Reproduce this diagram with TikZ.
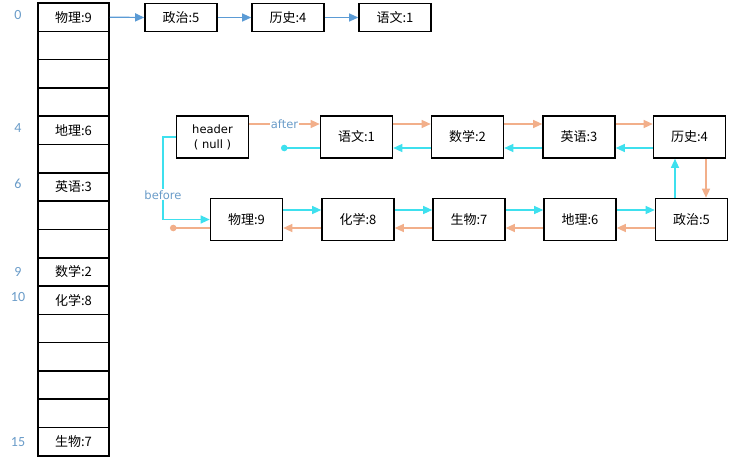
\documentclass[tikz,border=0pt]{standalone}
\usepackage{fontspec}
\setmainfont{Carlito}
\newfontfamily\cjk{Noto Sans CJK SC}
\newfontfamily\dvs{DejaVu Sans}
\usetikzlibrary{arrows.meta}
\definecolor{orangel}{HTML}{F2AF8A}
\definecolor{cyanl}{HTML}{3EE0EE}
\definecolor{bluel}{HTML}{5B9BD5}
\definecolor{idxc}{HTML}{6A9CC9}
\tikzset{
  box/.style={draw, line width=1.6pt, fill=white, minimum width=72pt, minimum height=42pt, inner sep=0pt, font=\cjk\fontsize{13}{15}\selectfont},
  topbox/.style={box, minimum height=28pt},
  cell/.style={draw, line width=1.6pt, fill=white, minimum width=71pt, minimum height=28.3pt, inner sep=0pt},
  celltext/.style={font=\cjk\fontsize{13}{15}\selectfont},
  idx/.style={text=idxc, font=\fontsize{14}{16}\selectfont},
  tip/.style={-{Triangle[length=9pt,width=8pt]}},
  bluearr/.style={tip, draw=bluel, line width=1.2pt},
  orarr/.style={tip, draw=orangel, line width=1.2pt},
  cyarr/.style={tip, draw=cyanl, line width=1.2pt},
  lbl/.style={text=idxc, fill=white, inner sep=1pt, font=\dvs\fontsize{11.5}{13}\selectfont},
}
\begin{document}
\begin{tikzpicture}[x=1pt,y=-1pt]
\useasboundingbox[fill=white] (0,0) rectangle (734,463);
% hash table
\foreach \i in {0,...,15} {
  \node[cell] (c\i) at (73.5,{3+28.3*\i+14.15}) {};
}
\node[celltext] at (c0) {物理:9};
\node[celltext] at (c4) {地理:6};
\node[celltext] at (c6) {英语:3};
\node[celltext] at (c9) {数学:2};
\node[celltext] at (c10) {化学:8};
\node[celltext] at (c15) {生物:7};
\node[idx] (i0) at (18,15) {0};
\node[idx] (i4) at (18,128) {4};
\node[idx] (i6) at (18,184) {6};
\node[idx] (i9) at (18,272) {9};
\node[idx] (i10) at (18,297) {10};
\node[idx] (i15) at (18,442) {15};
% bucket chain
\node[topbox] (t5) at (181,17.5) {政治:5};
\node[topbox] (t4) at (288,17.5) {历史:4};
\node[topbox] (t1) at (395,17.5) {语文:1};
\draw[bluearr] (c0.east) -- (t5.west);
\draw[bluearr] (t5.east) -- (t4.west);
\draw[bluearr] (t4.east) -- (t1.west);
% linked list row 1
\node[box, font=\dvs\fontsize{11.5}{15}\selectfont, align=center] (hdr) at (212.5,137) {header\\( null )};
\node[box] (y1) at (356.5,137) {语文:1};
\node[box] (s2) at (467.5,137) {数学:2};
\node[box] (e3) at (579,137) {英语:3};
\node[box] (h4) at (689.5,137) {历史:4};
% row 2
\node[box] (w9) at (246.5,219.5) {物理:9};
\node[box] (h8) at (358,219.5) {化学:8};
\node[box] (s7) at (469,219.5) {生物:7};
\node[box] (d6) at (580,219.5) {地理:6};
\node[box] (z5) at (691.5,219.5) {政治:5};
% forward (orange) row 1
\draw[orarr] ([yshift=13pt]hdr.east) -- node[lbl]{after} ([yshift=13pt]y1.west);
\draw[orarr] ([yshift=13pt]y1.east) -- ([yshift=13pt]s2.west);
\draw[orarr] ([yshift=13pt]s2.east) -- ([yshift=13pt]e3.west);
\draw[orarr] ([yshift=13pt]e3.east) -- ([yshift=13pt]h4.west);
% backward (cyan) row 1
\coordinate (dot1) at (281,148);
\draw[cyarr] ([yshift=-11pt]s2.west) -- ([yshift=-11pt]y1.east);
\draw[cyarr] ([yshift=-11pt]e3.west) -- ([yshift=-11pt]s2.east);
\draw[cyarr] ([yshift=-11pt]h4.west) -- ([yshift=-11pt]e3.east);
\draw[cyanl, line width=1.2pt, {Circle[length=6.5pt]}-] (dot1) -- ([yshift=-11pt]y1.west);
% vertical links
\draw[orarr] ([xshift=16.5pt]h4.south) -- ([xshift=14.5pt]z5.north);
\draw[cyarr] ([xshift=-16.5pt]z5.north) -- ([xshift=-14.5pt]h4.south);
% row 2 forward (cyan)
\draw[cyarr] ([yshift=9.5pt]w9.east) -- ([yshift=9.5pt]h8.west);
\draw[cyarr] ([yshift=9.5pt]h8.east) -- ([yshift=9.5pt]s7.west);
\draw[cyarr] ([yshift=9.5pt]s7.east) -- ([yshift=9.5pt]d6.west);
\draw[cyarr] ([yshift=9.5pt]d6.east) -- ([yshift=9.5pt]z5.west);
% row 2 backward (orange)
\draw[orarr] ([yshift=-8.5pt]z5.west) -- ([yshift=-8.5pt]d6.east);
\draw[orarr] ([yshift=-8.5pt]d6.west) -- ([yshift=-8.5pt]s7.east);
\draw[orarr] ([yshift=-8.5pt]s7.west) -- ([yshift=-8.5pt]h8.east);
\draw[orarr] ([yshift=-8.5pt]h8.west) -- ([yshift=-8.5pt]w9.east);
\coordinate (dot2) at (170,228);
\draw[orangel, line width=1.2pt, {Circle[length=6.5pt]}-] (dot2) -- ([yshift=-8.5pt]w9.west);
% before
\coordinate (bc) at (163,137);
\draw[cyarr] (hdr.west) -- (bc) |- node[pos=0.35, lbl]{before} (w9.west);
\end{tikzpicture}
\end{document}
